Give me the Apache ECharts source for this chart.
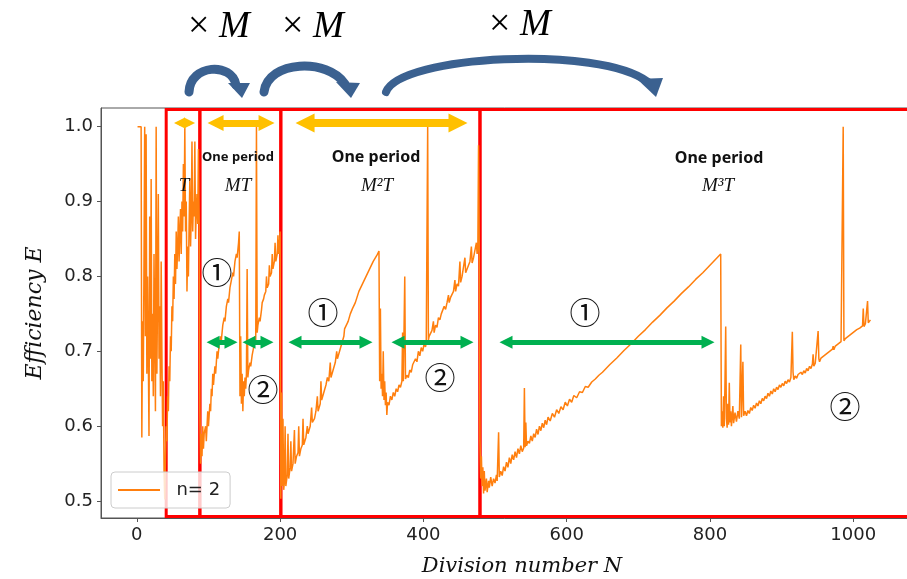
<!DOCTYPE html>
<html>
<head>
<meta charset="utf-8">
<script src="https://cdn.jsdelivr.net/npm/echarts@6/dist/echarts.min.js"></script>
<style>
html, body { margin: 0; padding: 0; background: #fff; }
#chart { width: 907px; height: 579px; }
</style>
</head>
<body>
<div id="chart"></div>
<script>
// values: [division number N, efficiency E]
var startNoise = [[1,1.0],[6,1.0],[7,0.585],[8,0.74],[9,0.66],[10,0.82],[11,1.0],[12,0.72],[13,0.99],[14,0.67],[15,0.8],[16,0.7],[17,0.587],[18,0.88],[19,0.69],[20,0.93],[21,0.66],[22,0.75],[23,0.64],[24,0.83],[25,0.72],[26,0.62],[27,1.0],[28,0.67],[29,0.78],[30,0.91],[31,0.69],[32,0.76],[33,0.64],[34,0.82],[35,0.7],[36,0.6],[37,0.66],[38,0.54],[39,0.502],[40,0.56]];

var periodT = [[41,0.6],[42,0.58],[43,0.64],[44,0.62],[45,0.68],[46,0.66],[47,0.72],[48,0.7],[49,0.76],[50,0.74],[51,0.8],[52,0.77],[53,0.83],[54,0.79],[55,0.86],[56,0.81],[57,0.84],[58,0.88],[59,0.82],[60,0.86],[61,0.89],[62,0.83],[63,0.9],[64,0.86],[65,0.95],[66,0.88],[67,1.0],[68,0.86],[69,0.9],[70,0.78],[71,0.84],[72,0.8],[73,0.87],[74,0.93],[75,0.84],[76,0.88],[77,0.98],[78,0.86],[79,0.9],[80,0.88],[81,0.98],[82,0.85],[83,0.89],[84,0.91],[85,0.87],[86,0.97],[87,0.88]];

var periodMT = [[88,0.62],[89,0.55],[90,0.59],[91,0.56],[92,0.6],[93,0.57],[94,0.59],[96,0.6],[97,0.58],[99,0.62],[100,0.6],[102,0.63],[103,0.62],[104,0.65],[105,0.64],[106,0.67],[107,0.655],[109,0.68],[110,0.67],[112,0.7],[113,0.69],[115,0.71],[117,0.72],[118,0.715],[120,0.735],[122,0.745],[123,0.74],[125,0.76],[127,0.77],[128,0.765],[130,0.785],[132,0.795],[134,0.805],[135,0.8],[137,0.82],[139,0.83],[140,0.825],[142,0.845],[143,0.86],
  [144,0.64],[145,0.72],[146,0.63],[147,0.67],[148,0.62],[149,0.66],[150,0.64],[151,0.665],[152,0.65],[153,0.67],[154,0.81],[155,0.665],[156,0.675],[158,0.685],[159,0.68],[161,0.695],[162,0.7],[164,0.71],[165,0.72],[166,0.715],[167,1.0],[168,0.725],[169,0.735],[171,0.745],[172,0.74],[174,0.755],[175,0.765],[177,0.77],[178,0.775],[180,0.78],[181,0.8],[182,0.785],[184,0.79],[185,0.815],[186,0.8],[188,0.805],[189,0.83],[190,0.81],[192,0.82],[193,0.845],[194,0.82],[196,0.83],[197,0.855],[198,0.83],[199,0.84],[200,0.86]];

var periodM2T = [[201,0.503],[202,0.645],[203,0.52],[204,0.61],[205,0.515],[206,0.525],[207,0.6],[208,0.52],[210,0.535],[211,0.59],[212,0.53],[214,0.545],[215,0.58],[216,0.54],[218,0.55],[220,0.595],[221,0.55],[223,0.56],[225,0.565],[226,0.6],[227,0.56],[229,0.57],[231,0.575],[232,0.61],[233,0.575],[236,0.585],[238,0.6],[239,0.59],[242,0.6],[244,0.625],[245,0.605],[248,0.61],[250,0.62],[252,0.64],[253,0.62],[256,0.63],[257,0.66],[258,0.635],[261,0.645],[264,0.655],[266,0.665],[268,0.66],[270,0.685],[271,0.665],[274,0.675],[277,0.685],[279,0.7],[280,0.69],[283,0.7],[286,0.71],[289,0.72],[290,0.73],[292,0.73],[295,0.74],[298,0.75],[301,0.757],[305,0.765],[310,0.78],[315,0.79],[320,0.8],[325,0.81],[330,0.82],[335,0.828],[338,0.834],
  [339,0.66],[340,0.757],[341,0.65],[342,0.67],[343,0.64],[344,0.7],[345,0.635],[346,0.66],[347,0.628],[348,0.645],[349,0.615],[350,0.632],[352,0.628],[354,0.64],[356,0.635],[358,0.645],[360,0.64],[362,0.65],[364,0.646],[366,0.655],[368,0.652],[370,0.66],[371,0.725],[372,0.66],[374,0.8],[375,0.663],[377,0.668],[379,0.665],[381,0.675],[383,0.672],[385,0.682],[387,0.68],[389,0.69],[391,0.686],[393,0.7],[395,0.694],[397,0.705],[399,0.7],[401,0.71],[403,0.706],[404,0.712],[406,1.0],[407,0.715],[408,0.72],[410,0.718],[412,0.728],[414,0.74],[415,0.725],[417,0.735],[419,0.732],[421,0.745],[423,0.742],[425,0.75],[427,0.748],[429,0.76],[431,0.756],[433,0.765],[435,0.775],[436,0.765],[438,0.772],[440,0.77],[442,0.78],[444,0.795],[445,0.78],[447,0.79],[449,0.787],[451,0.82],[452,0.792],[454,0.8],[456,0.798],[458,0.825],[459,0.805],[461,0.81],[463,0.808],[465,0.82],[467,0.84],[468,0.818],[470,0.825],[472,0.823],[474,0.845],[475,0.83],[476,0.835],[477,0.975],[478,0.84]];

var periodM3T = [[479,0.58],[480,0.53],[481,0.56],[482,0.52],[483,0.545],[484,0.51],[485,0.54],[486,0.514],[488,0.53],[489,0.512],[491,0.527],[492,0.518],[494,0.532],[496,0.52],[498,0.53],[500,0.524],[502,0.535],[503,0.527],[505,0.592],[506,0.532],[508,0.54],[510,0.534],[512,0.546],[514,0.54],[516,0.552],[518,0.545],[520,0.558],[522,0.55],[524,0.562],[526,0.555],[528,0.566],[530,0.558],[532,0.57],[534,0.563],[536,0.574],[538,0.566],[540,0.571],[541,0.651],[542,0.572],[543,0.605],[544,0.574],[546,0.58],[548,0.577],[550,0.587],[552,0.58],[554,0.59],[556,0.585],[558,0.596],[560,0.589],[562,0.6],[564,0.594],[566,0.604],[568,0.598],[570,0.608],[572,0.602],[574,0.612],[577,0.607],[580,0.617],[583,0.612],[586,0.622],[589,0.617],[592,0.626],[595,0.622],[598,0.632],[601,0.627],[604,0.636],[607,0.632],[610,0.641],[614,0.638],[618,0.646],[622,0.645],[626,0.653],[630,0.652],[635,0.659],[640,0.663],[645,0.668],[650,0.672],[655,0.677],[660,0.682],[670,0.691],[680,0.701],[690,0.71],[700,0.72],[710,0.729],[720,0.739],[730,0.748],[740,0.758],[750,0.767],[760,0.777],[770,0.786],[780,0.796],[790,0.805],[800,0.815],[810,0.825],[815,0.83],
  [816,0.6],[817,0.62],[818,0.598],[819,0.64],[820,0.6],[821,0.66],[822,0.733],[823,0.61],[824,0.598],[825,0.63],[826,0.602],[827,0.658],[828,0.605],[829,0.62],[830,0.6],[832,0.627],[833,0.604],[835,0.618],[837,0.606],[839,0.62],[841,0.61],[843,0.709],[844,0.612],[846,0.686],[847,0.614],[849,0.62],[851,0.614],[853,0.621],[855,0.617],[857,0.625],[859,0.621],[861,0.628],[863,0.624],[865,0.631],[867,0.627],[869,0.634],[871,0.63],[873,0.637],[875,0.634],[877,0.64],[879,0.637],[881,0.644],[883,0.64],[885,0.647],[887,0.643],[889,0.65],[891,0.646],[893,0.652],[895,0.649],[897,0.655],[899,0.652],[901,0.657],[903,0.654],[905,0.66],[907,0.657],[909,0.662],[911,0.659],[913,0.665],[915,0.726],[916,0.672],[917,0.662],[919,0.667],[921,0.664],[923,0.669],[925,0.667],[927,0.672],[929,0.669],[931,0.674],[933,0.671],[935,0.677],[937,0.674],[939,0.68],[941,0.677],[943,0.683],[944,0.696],[945,0.68],[947,0.684],[949,0.683],[951,0.727],[952,0.69],[953,0.686],[955,0.691],[957,0.689],[959,0.694],[961,0.692],[963,0.697],[965,0.695],[967,0.7],[969,0.698],[971,0.703],[972,0.707],[973,0.702],[975,0.707],[977,0.705],[979,0.71],[981,0.708],[983,0.713],[985,0.711],[986,1.0],[987,0.714],[989,0.717],[991,0.715],[993,0.72],[995,0.718],[997,0.723],[999,0.721],[1001,0.726],[1003,0.724],[1005,0.729],[1007,0.727],[1009,0.731],[1011,0.729],[1013,0.734],[1014,0.757],[1015,0.733],[1017,0.737],[1019,0.735],[1020,0.767],[1021,0.738],[1022,0.74],[1024,0.742]];

// tick values and axis extents (the plot runs on past the right edge of the picture)
var xTickValues = [0, 200, 400, 600, 800, 1000];
var yTickValues = [0.5, 0.6, 0.7, 0.8, 0.9, 1.0];
var xMin = -50, xMax = 1094.6;
var yMin = 0.4774, yMax = 1.0249;

// annotation spans (in N) : period boxes, yellow period arrows, green arrows
var periodEdges = [41, 88, 201, 479, 1120];
var yellowSpans = [[59.6, 73.6], [109.9, 181.1], [234.8, 448.3], [515.3, 1120]];
var greenSpans = [[106.4, 131.5], [156.6, 181.7], [220.8, 319.9], [364.6, 460.9], [515.3, 797.3], [849, 1120]];
var yellowLevel = 1.005;
var greenLevel = 0.712;

var lineData = [].concat(startNoise, periodT, periodMT, periodM2T, periodM3T);

var chart = echarts.init(document.getElementById('chart'));

var boxes = [];
for (var i = 0; i < periodEdges.length - 1; i++) {
  boxes.push([{coord: [periodEdges[i], yMin + 0.002]}, {coord: [periodEdges[i + 1], yMax - 0.002]}]);
}
var yellowSizes = [11, 16, 19, 19];
var yellowWidths = [5, 7, 8, 8];
var yellowLines = yellowSpans.map(function (s, i) {
  return [
    {coord: [s[0], yellowLevel], symbolSize: yellowSizes[i], lineStyle: {width: yellowWidths[i]}},
    {coord: [s[1], yellowLevel], symbolSize: yellowSizes[i]}
  ];
});
var greenLines = greenSpans.map(function (s) {
  return [{coord: [s[0], greenLevel]}, {coord: [s[1], greenLevel]}];
});

var blue = '#3B6190';
function txt(x, y, text, font) {
  return {type: 'text', x: x, y: y, z: 100,
    style: {text: text, font: font, fill: '#111', align: 'center', verticalAlign: 'middle'}};
}
function timesM(x, y) {
  return {type: 'text', x: x, y: y, z: 100, style: {
    text: '{a|× }{b|M}', align: 'center', verticalAlign: 'middle',
    rich: {
      a: {fontFamily: 'Liberation Serif', fontSize: 38, color: '#111'},
      b: {fontFamily: 'Liberation Serif', fontStyle: 'italic', fontSize: 37, color: '#111'}
    }
  }};
}
var circFont = '31px "Noto Sans CJK JP"';
var italicFont = 'italic 19px "Liberation Serif"';

var option = {
  animation: false,
  grid: {left: 101, top: 108, width: 820, height: 410, outerBoundsMode: 'none', containLabel: false,
    show: true, borderColor: '#555', borderWidth: 1, backgroundColor: 'transparent'},
  legend: {
    data: [{name: 'n= 2', icon: 'rect'}],
    left: 111, top: 472,
    padding: [9, 10, 9, 7],
    itemWidth: 42, itemHeight: 2,
    backgroundColor: 'rgba(255,255,255,0.8)',
    borderColor: '#ccc', borderWidth: 1, borderRadius: 4,
    formatter: function (name) { return '  ' + name; },
    textStyle: {fontFamily: 'DejaVu Sans', fontSize: 18, color: '#222'}
  },
  xAxis: {
    type: 'value', min: xMin, max: xMax,
    name: 'Division number N', nameLocation: 'middle', nameGap: 38,
    nameTextStyle: {fontFamily: 'DejaVu Serif', fontStyle: 'italic', fontSize: 21, color: '#111', padding: [0, 0, 0, 22]},
    axisLine: {show: true, onZero: false, lineStyle: {color: '#555', width: 1}},
    axisTick: {show: true, length: 4, lineStyle: {color: '#555'}, customValues: xTickValues},
    axisLabel: {fontFamily: 'DejaVu Sans', fontSize: 18, color: '#222', margin: 8, customValues: xTickValues,
      formatter: function (v) { return String(v); }},
    splitLine: {show: false}
  },
  yAxis: {
    type: 'value', min: yMin, max: yMax,
    name: 'Efficiency E', nameLocation: 'middle', nameGap: 55, nameRotate: 90,
    nameTextStyle: {fontFamily: 'DejaVu Serif', fontStyle: 'italic', fontSize: 22, color: '#111'},
    axisLine: {show: true, onZero: false, lineStyle: {color: '#555', width: 1}},
    axisTick: {show: true, length: 4, lineStyle: {color: '#555'}, customValues: yTickValues},
    axisLabel: {fontFamily: 'DejaVu Sans', fontSize: 18, color: '#222', margin: 8, customValues: yTickValues,
      formatter: function (v) { return v.toFixed(1); }},
    splitLine: {show: false}
  },
  series: [
    {
      name: 'n= 2', type: 'line', data: lineData, z: 2,
      symbol: 'none', showSymbol: false,
      lineStyle: {color: '#FF7F0E', width: 1.5}, itemStyle: {color: '#FF7F0E'}
    },
    {
      name: 'boxes', type: 'line', data: [], z: 10, silent: true,
      markArea: {
        silent: true, label: {show: false},
        itemStyle: {color: 'rgba(0,0,0,0)', borderColor: '#FF0000', borderWidth: 3},
        data: boxes
      }
    },
    {
      name: 'period arrows', type: 'line', data: [], z: 11, silent: true,
      markLine: {
        silent: true, symbol: ['triangle', 'triangle'], symbolSize: 16,
        label: {show: false},
        lineStyle: {color: '#FFC000', width: 8, type: 'solid'},
        emphasis: {disabled: true},
        data: yellowLines
      }
    },
    {
      name: 'part arrows', type: 'line', data: [], z: 11, silent: true,
      markLine: {
        silent: true, symbol: ['triangle', 'triangle'], symbolSize: 13,
        label: {show: false},
        lineStyle: {color: '#00B050', width: 5, type: 'solid'},
        emphasis: {disabled: true},
        data: greenLines
      }
    }
  ],
  graphic: [
    timesM(219, 27),
    timesM(313, 27),
    timesM(520, 25),
    {type: 'bezierCurve', z: 100, shape: {x1: 189, y1: 92, cpx1: 190, cpy1: 64, cpx2: 232, cpy2: 62, x2: 236, y2: 85}, style: {stroke: blue, lineWidth: 9, lineCap: 'round', fill: null}},
    {type: 'polygon', z: 100, shape: {points: [[228, 83], [250, 83], [242, 98]]}, style: {fill: blue}},
    {type: 'bezierCurve', z: 100, shape: {x1: 264, y1: 92, cpx1: 268, cpy1: 60, cpx2: 328, cpy2: 58, x2: 345, y2: 84}, style: {stroke: blue, lineWidth: 9, lineCap: 'round', fill: null}},
    {type: 'polygon', z: 100, shape: {points: [[336, 82], [360, 83], [351, 98]]}, style: {fill: blue}},
    {type: 'bezierCurve', z: 100, shape: {x1: 386, y1: 92, cpx1: 400, cpy1: 55, cpx2: 600, cpy2: 45, x2: 648, y2: 82}, style: {stroke: blue, lineWidth: 8, lineCap: 'round', fill: null}},
    {type: 'polygon', z: 100, shape: {points: [[637, 79], [663, 78], [656, 97]]}, style: {fill: blue}},
    txt(238, 157, 'One period', 'bold 13px "Noto Sans"'),
    txt(376, 157, 'One period', 'bold 16px "Noto Sans"'),
    txt(719, 158, 'One period', 'bold 16px "Noto Sans"'),
    txt(184, 186, 'T', italicFont),
    txt(238, 186, 'MT', italicFont),
    txt(377, 186, 'M²T', italicFont),
    txt(718, 186, 'M³T', italicFont),
    txt(217, 272, '①', circFont),
    txt(263, 389, '②', circFont),
    txt(323, 312, '①', circFont),
    txt(440, 377, '②', circFont),
    txt(585, 312, '①', circFont),
    txt(845, 406, '②', circFont)
  ]
};
chart.setOption(option);
</script>
</body>
</html>
